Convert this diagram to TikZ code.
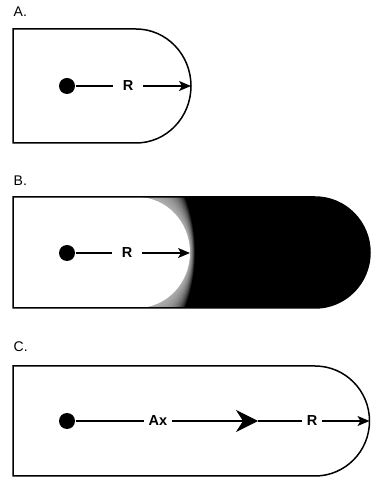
\documentclass[tikz,border=0pt]{standalone}
\usepackage{fontspec}
\setmainfont{Liberation Sans}
\usetikzlibrary{arrows.meta}
\begin{document}
\begin{tikzpicture}[x=1pt,y=1pt, line width=1.4pt,
  panel/.style={draw=black, line width=1.5pt, line join=miter},
  dotc/.style={circle, fill=black, inner sep=0pt, minimum size=16pt},
  lbl/.style={font=\fontsize{14.5}{14.5}\selectfont\bfseries, inner sep=0pt, inner xsep=9pt},
  lblt/.style={font=\fontsize{14.5}{14.5}\selectfont\bfseries, inner sep=0pt, inner xsep=4pt},
  head/.style={font=\fontsize{14}{14}\selectfont, anchor=west, inner sep=0pt},
  tip/.style={-{Stealth[length=12pt,width=10pt,inset=3pt]}},
  bigtip/.style={-{Stealth[length=22pt,width=22pt,inset=7pt]}}]
\useasboundingbox (0,0) rectangle (371,481);

% ---------- A ----------
\node[head] (labA) at (13,469) {A.};
\draw[panel, fill=white] (13,452) -- (136,452)
  arc[start angle=90, end angle=-90, x radius=55, y radius=57] -- (13,338) -- cycle;
\node[dotc] (dA) at (67,395) {};
\node[lbl] (rA) at (128,395) {R};
\coordinate (eA) at (191,395);
\draw (dA) -- (rA);
\draw[tip] (rA) -- (eA);

% ---------- B ----------
\node[head] (labB) at (13,300) {B.};
\fill[black] (13,284) -- (315,284)
  arc[start angle=90, end angle=-90, x radius=55, y radius=55.5] -- (13,173) -- cycle;
\begin{scope}
  \clip (13,284) -- (315,284)
    arc[start angle=90, end angle=-90, x radius=55, y radius=55.5] -- (13,173) -- cycle;
  \foreach \i in {1,...,16} {
    \pgfmathsetmacro\rx{53+1.5*\i}
    \pgfmathsetmacro\ry{55.5+3.5*\i}
    \pgfmathsetmacro\cx{190+0.3*\i-\rx}
    \fill[white, opacity=0.07] (13,{228.5+\ry}) -- (\cx,{228.5+\ry})
      arc[start angle=90, end angle=-90, x radius=\rx, y radius=\ry] -- (13,{228.5-\ry}) -- cycle;
  }
  \fill[white] (13,284) -- (137,284)
    arc[start angle=90, end angle=-90, x radius=53, y radius=55.5] -- (13,173) -- cycle;
\end{scope}
\draw[panel] (13,284) -- (315,284)
  arc[start angle=90, end angle=-90, x radius=55, y radius=55.5] -- (13,173) -- cycle;
\node[dotc] (dB) at (67,228) {};
\node[lbl] (rB) at (127,228) {R};
\coordinate (eB) at (190,228);
\draw (dB) -- (rB);
\draw[tip] (rB) -- (eB);

% ---------- C ----------
\node[head] (labC) at (13,134) {C.};
\draw[panel, fill=white] (13,115) -- (315,115)
  arc[start angle=90, end angle=-90, x radius=54.5, y radius=55] -- (13,5) -- cycle;
\node[dotc] (dC) at (67,60) {};
\node[lblt] (ax) at (158,60) {Ax};
\coordinate (mC) at (258,60);
\node[lblt] (rC) at (312,60) {R};
\coordinate (eC) at (369.5,60);
\draw (dC) -- (ax);
\draw[bigtip] (ax) -- (mC);
\draw (mC) -- (rC);
\draw[tip] (rC) -- (eC);
\end{tikzpicture}
\end{document}
